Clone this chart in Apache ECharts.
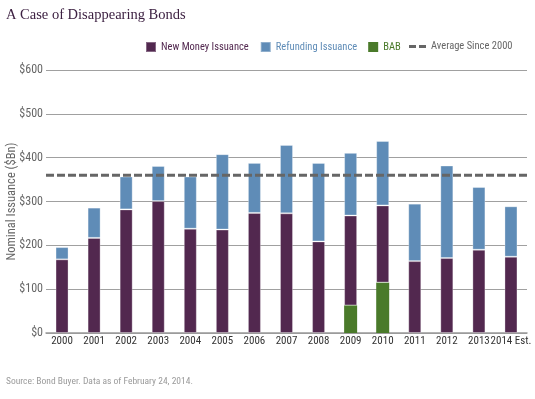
<!DOCTYPE html>
<html>
<head>
<meta charset="utf-8">
<script src="https://cdn.jsdelivr.net/npm/echarts@6/dist/echarts.min.js"></script>
<style>
  html, body { margin: 0; padding: 0; background: #fff; }
  #main { width: 535px; height: 399px; }
</style>
</head>
<body>
<div id="main"></div>
<script>
// 年份（横轴）
var years = ['2000', '2001', '2002', '2003', '2004', '2005', '2006', '2007',
  '2008', '2009', '2010', '2011', '2012', '2013', '2014 Est.']
// 各系列数值（$Bn）
var babValues = [0, 0, 0, 0, 0, 0, 0, 0, 0, 63, 115, 0, 0, 0, 0]
var newMoneyValues = [168, 217, 282, 301, 238, 236, 274, 273, 209, 205, 176, 164, 171, 190, 174]
var refundingValues = [28, 69, 75, 80, 119, 172, 114, 156, 179, 143, 147, 131, 211, 143, 115]
var averageSince2000 = 360
// 纵轴刻度
var yTicks = [0, 100, 200, 300, 400, 500, 600]

var FONT = '"Roboto Condensed", "DejaVu Sans Condensed", sans-serif'
var PURPLE = '#52284f'
var BLUE = '#5f8cb7'
var GREEN = '#4a7a2a'
var DASH = '#666666'

var myChart = echarts.init(document.getElementById('main'))

var option = {
  backgroundColor: '#ffffff',
  animation: false,
  textStyle: { fontFamily: FONT },
  title: [
    {
      text: 'A Case of Disappearing Bonds',
      left: 6, top: 8, padding: 0,
      textStyle: { fontFamily: '"Liberation Serif", serif', fontSize: 14.5, fontWeight: 'normal', color: '#3d2142' }
    },
    {
      text: 'Source: Bond Buyer. Data as of February 24, 2014.',
      left: 6, top: 377, padding: 0,
      textStyle: { fontFamily: FONT, fontSize: 9.5, fontWeight: 'normal', color: '#9a9a9a' }
    }
  ],
  legend: [
    {
      left: 145, top: 41, padding: 0,
      itemWidth: 10, itemHeight: 10, itemGap: 11,
      icon: 'rect',
      textStyle: { fontFamily: FONT, fontSize: 10.5 },
      data: [
        { name: 'New Money Issuance', textStyle: { color: PURPLE } },
        { name: 'Refunding Issuance', textStyle: { color: BLUE } },
        { name: 'BAB', textStyle: { color: GREEN } }
      ]
    },
    {
      left: 409, top: 41, padding: 0,
      itemWidth: 17, itemHeight: 3,
      textStyle: { fontFamily: FONT, fontSize: 10.5, color: '#666' },
      data: [
        { name: 'Average Since 2000', icon: 'path://M0,0h7v3h-7z M10,0h7v3h-7z', itemStyle: { color: DASH } }
      ]
    }
  ],
  grid: { left: 46, right: 8, top: 70, bottom: 66, outerBoundsMode: 'none', containLabel: false },
  xAxis: [
    {
      type: 'category',
      data: years,
      axisLine: { lineStyle: { color: '#999', width: 1.5 } },
      axisTick: { show: false },
      axisLabel: { color: '#333', fontSize: 11, margin: 3, interval: 0 }
    },
    { type: 'value', min: 0, max: 1, show: false }
  ],
  yAxis: {
    type: 'value',
    min: yTicks[0],
    max: yTicks[yTicks.length - 1],
    interval: 100,
    name: 'Nominal Issuance ($Bn)',
    nameLocation: 'middle',
    nameGap: 28,
    nameMoveOverlap: false,
    nameTextStyle: { color: '#666', fontSize: 12.5, fontFamily: FONT },
    axisLine: { show: false },
    axisTick: { show: false },
    axisLabel: { color: '#666', fontSize: 12, margin: 3, formatter: function (v) { return '$' + v } },
    splitLine: { lineStyle: { color: '#a0a0a0', width: 1.2 } }
  },
  series: [
    {
      name: 'BAB', type: 'bar', stack: 'total', barWidth: 13,
      itemStyle: { color: GREEN },
      data: babValues
    },
    {
      name: 'New Money Issuance', type: 'bar', stack: 'total', barWidth: 13,
      itemStyle: { color: PURPLE, borderColor: 'rgba(255,255,255,0.3)', borderWidth: 1 },
      data: newMoneyValues
    },
    {
      name: 'Refunding Issuance', type: 'bar', stack: 'total', barWidth: 13,
      itemStyle: { color: BLUE, borderColor: 'rgba(255,255,255,0.3)', borderWidth: 1 },
      data: refundingValues
    },
    {
      name: 'Average Since 2000', type: 'line', xAxisIndex: 1,
      symbol: 'none', z: 5,
      itemStyle: { color: DASH },
      lineStyle: { color: DASH, width: 3, type: [8, 3] },
      data: [[0, averageSince2000], [1, averageSince2000]]
    }
  ]
}

myChart.setOption(option)
</script>
</body>
</html>
